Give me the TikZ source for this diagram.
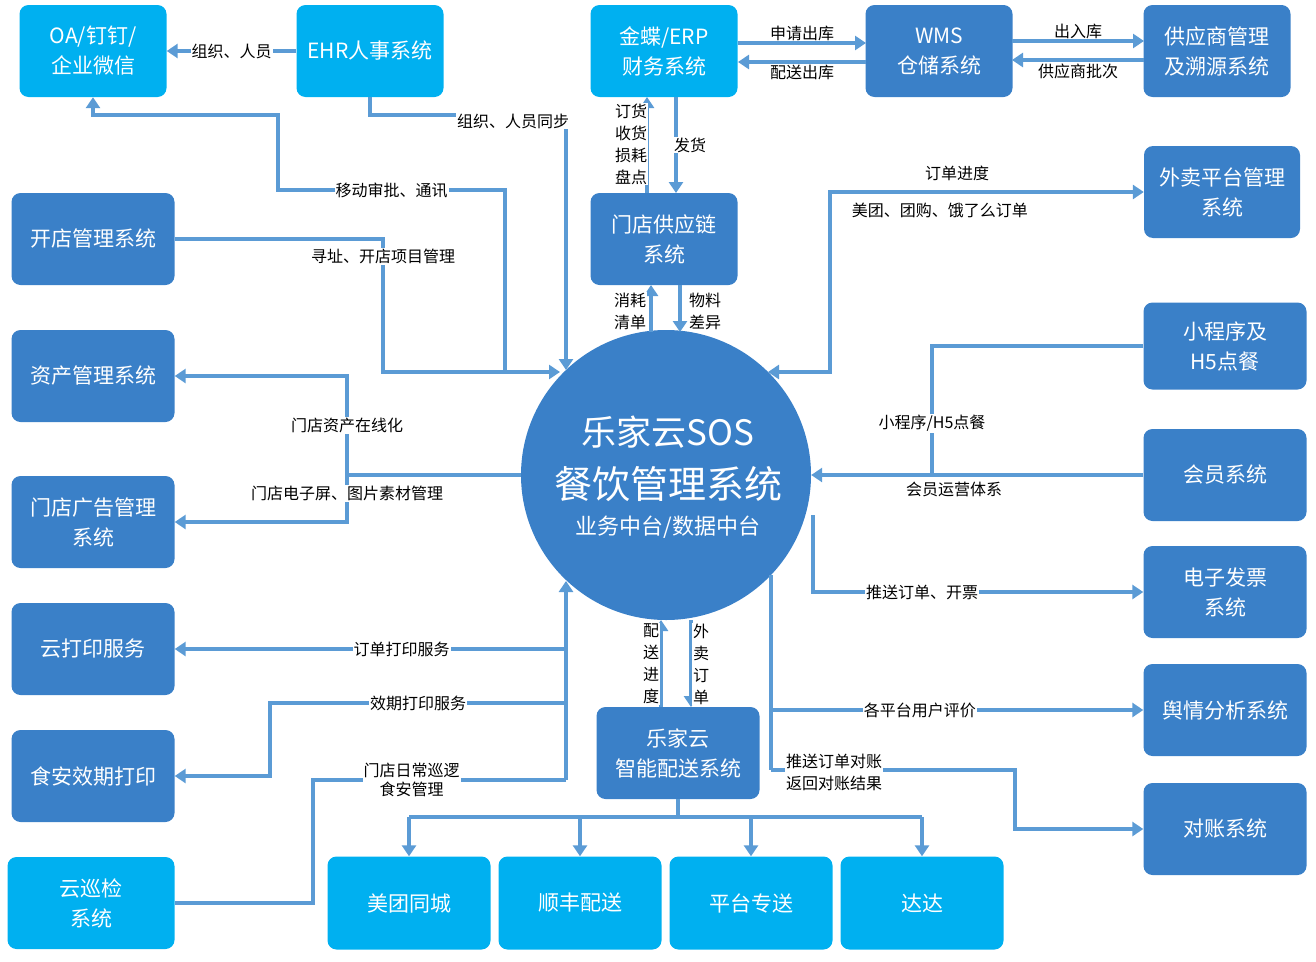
\documentclass[tikz,border=0pt]{standalone}
\usepackage{fontspec}
\setmainfont{Noto Sans CJK SC}
\usetikzlibrary{arrows.meta}
\definecolor{lb}{HTML}{00B0F0}
\definecolor{db}{HTML}{3A80C8}
\definecolor{ln}{HTML}{5B9BD5}
\begin{document}
\begin{tikzpicture}[x=1pt,y=-1pt,
  box/.style={rounded corners=9pt,minimum width=147pt,minimum height=92pt,text=white,font=\fontsize{21}{30}\selectfont,align=center,inner sep=2pt},
  lbox/.style={box,fill=lb},
  dbox/.style={box,fill=db},
  wbox/.style={minimum width=163pt},
  lab/.style={fill=white,inner sep=1pt,font=\fontsize{16}{19}\selectfont,align=center,text=black},
  vlab/.style={lab,font=\fontsize{16}{22}\selectfont},
  ctext/.style={text=white,inner sep=0pt},
  con/.style={draw=ln,line width=3.5pt},
  arr/.style={con,-{Triangle[width=14pt,length=11pt]}},
  darr/.style={con,{Triangle[width=14pt,length=11pt]}-{Triangle[width=14pt,length=11pt]}}]
\useasboundingbox (0,0) rectangle (1316,961);
% nodes
\node[lbox] (oa) at (93,51) {OA/钉钉/\\企业微信};
\node[lbox] (ehr) at (370,51) {EHR人事系统};
\node[lbox] (erp) at (664,51) {金蝶/ERP\\财务系统};
\node[dbox] (wms) at (939,51) {WMS\\仓储系统};
\node[dbox] (sup) at (1217,51) {供应商管理\\及溯源系统};
\node[dbox] (scm) at (664,239) {门店供应链\\系统};
\node[dbox,minimum width=156pt] (wm) at (1222,192) {外卖平台管理\\系统};
\node[dbox,wbox] (kd) at (93,239) {开店管理系统};
\node[dbox,wbox] (zc) at (93,376) {资产管理系统};
\node[dbox,wbox] (gg) at (93,522) {门店广告管理\\系统};
\node[dbox,wbox] (dy) at (93,649) {云打印服务};
\node[dbox,wbox] (sa) at (93,776) {食安效期打印};
\node[lbox,minimum width=167pt] (xj) at (91,903) {云巡检\\系统};
\node[dbox,wbox,minimum height=87pt] (xcx) at (1225,346) {小程序及\\H5点餐};
\node[dbox,wbox] (hy) at (1225,475) {会员系统};
\node[dbox,wbox] (fp) at (1225,592) {电子发票\\系统};
\node[dbox,wbox] (yq) at (1225,710) {舆情分析系统};
\node[dbox,wbox] (dz) at (1225,829) {对账系统};
\node[dbox,wbox] (ps) at (678,753) {乐家云\\智能配送系统};
\node[lbox,wbox,minimum height=93pt] (mt) at (409,903) {美团同城};
\node[lbox,wbox,minimum height=93pt] (sf) at (580,903) {顺丰配送};
\node[lbox,wbox,minimum height=93pt] (pt) at (751,903) {平台专送};
\node[lbox,wbox,minimum height=93pt] (dd) at (922,903) {达达};
\node[circle,fill=db,minimum size=290pt,inner sep=0pt] (c) at (666,475) {};
\node[ctext,font=\fontsize{35}{40}\selectfont] (t1) at (668,432) {乐家云SOS};
\node[ctext,font=\fontsize{38}{44}\selectfont] (t2) at (668,484) {餐饮管理系统};
\node[ctext,font=\fontsize{22}{26}\selectfont] (t3) at (668,527) {业务中台/数据中台};
% top-left
\draw[arr] (ehr.west) -- node[lab]{组织、人员} (oa.east);
\coordinate (e1) at (566,370);
\draw[arr] (ehr.south) -- (370,115) -- node[lab,pos=0.73,yshift=-6pt]{组织、人员同步} (566,115) -- (e1);
\coordinate (c372) at (560,372);
\draw[arr] (505,372) -- (505,190) -- node[lab]{移动审批、通讯} (278,190) -- (278,115) -- (93,115) -- (oa.south);
\draw[arr] (kd.east) -- (383,239) -- node[lab,pos=0.13]{寻址、开店项目管理} (383,372) -- (c372);
% asset / ads
\draw[con] (c.west) -- (347,475);
\draw[arr] (347,475) -- node[lab,pos=0.5]{门店资产在线化} (347,376) -- (zc.east);
\draw[arr] (347,475) -- node[lab,pos=0.4]{门店电子屏、图片素材管理} (347,522) -- (gg.east);
% print / inspect
\coordinate (c580) at (566,581);
\draw[arr] (566,780) -- (c580);
\draw[arr] (566,649) -- node[lab,pos=0.42]{订单打印服务} (dy.east);
\draw[arr] (566,703) -- node[lab,pos=0.5]{效期打印服务} (270,703) -- (270,776) -- (sa.east);
\draw[con] (566,780) -- node[lab,pos=0.61]{门店日常巡逻\\食安管理} (313,780) -- (313,903) -- (xj.east);
% supply
\draw[arr] (647,193) -- (647,97);
\node[vlab] (l0) at (631,144) {订货\\收货\\损耗\\盘点};
\draw[arr] (676,97) -- node[lab,xshift=14pt]{发货} (676,193);
\draw[arr] (651,332) -- (651,285);
\draw[arr] (680,285) -- (680,332);
\node[vlab] (l1) at (630,311) {消耗\\清单};
\node[vlab] (l2) at (705,311) {物料\\差异};
\draw[arr] (738,43) -- node[lab,yshift=10pt]{申请出库} (866,43);
\draw[arr] (866,62) -- node[lab,yshift=-10pt]{配送出库} (738,62);
\draw[arr] (1012,41) -- node[lab,yshift=10pt]{出入库} (1144,41);
\draw[arr] (1144,60) -- node[lab,yshift=-11pt]{供应商批次} (1012,60);
% right side
\draw[darr] (768,372) -- (830,372) -- (830,192) -- node[lab,pos=0.405,yshift=19pt]{订单进度} node[lab,pos=0.35,yshift=-18pt]{美团、团购、饿了么订单} (wm.west);
\draw[con] (xcx.west) -- (932,346) -- node[lab,pos=0.6]{小程序/H5点餐} (932,475);
\draw[arr] (hy.west) -- node[lab,pos=0.57,yshift=-14pt]{会员运营体系} (c.east);
\draw[arr] (813,515) -- (813,592) -- node[lab,pos=0.33]{推送订单、开票} (fp.west);
\draw[con] (771,575) -- (771,770);
\draw[arr] (771,710) -- node[lab,pos=0.4]{各平台用户评价} (yq.west);
\draw[arr] (771,770) -- (1015,770) -- (1015,829) -- (dz.west);
\node[vlab,align=left,anchor=west] (l3) at (785,772) {推送订单对账\\返回对账结果};
% delivery
\draw[arr] (661,707) -- (661,620);
\node[vlab] (l4) at (651,664) {配\\送\\进\\度};
\draw[arr] (691,620) -- (691,707);
\node[vlab] (l5) at (701,664) {外\\卖\\订\\单};
\draw[con] (ps.south) -- (678,817);
\draw[con] (409,817) -- (922,817);
\foreach \n/\x in {mt/409,sf/580,pt/751,dd/922} \draw[arr] (\x,817) -- (\n.north);
\end{tikzpicture}
\end{document}
